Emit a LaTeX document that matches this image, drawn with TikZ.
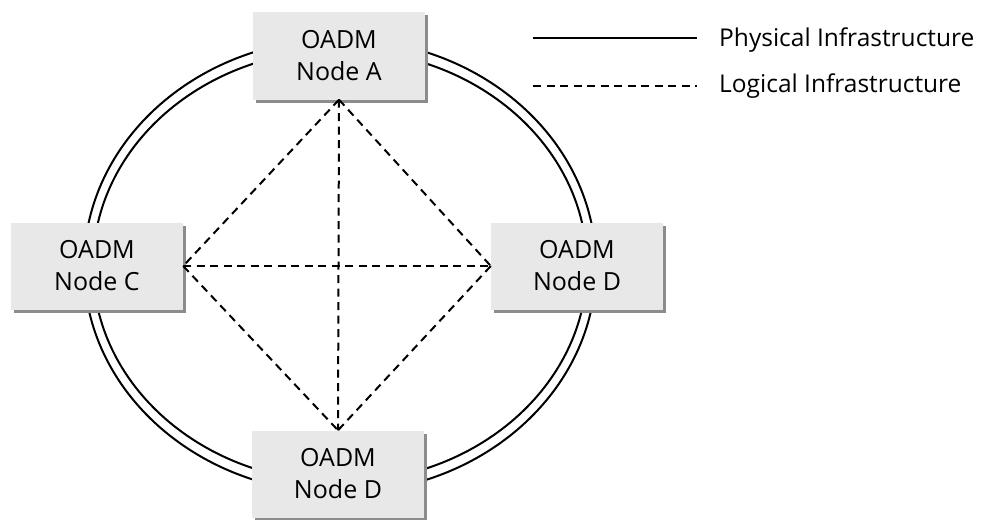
\documentclass[tikz,border=0pt]{standalone}
\usepackage{fontspec}
\setmainfont{Open Sans}
\usetikzlibrary{shadows}
\definecolor{boxfill}{HTML}{E8E8E8}
\definecolor{boxshade}{HTML}{8C8C8C}
\begin{document}
\begin{tikzpicture}[x=1pt,y=-1pt,
  oadm/.style={fill=boxfill, minimum width=172pt, minimum height=87pt,
    inner sep=0pt, align=center, font=\fontsize{25}{32}\selectfont,
    drop shadow={shadow xshift=3pt, shadow yshift=-3pt, fill=boxshade, opacity=1}},
  physical/.style={line width=2pt},
  logical/.style={line width=2pt, dash pattern=on 8pt off 5.5pt},
  legendtext/.style={anchor=west, inner sep=0pt, font=\fontsize{24.5}{28}\selectfont}]
\useasboundingbox (0,0) rectangle (984,519);

% double ring of the physical fibre
\draw[physical] (340,266) ellipse [x radius=256pt, y radius=227pt];
\draw[physical] (340,266) ellipse [x radius=247pt, y radius=216pt];

% OADM nodes
\node[oadm] (A)  at (339,56)  {OADM\\Node A};
\node[oadm] (C)  at (97,266)  {OADM\\Node C};
\node[oadm] (DR) at (577,266) {OADM\\Node D};
\node[oadm] (DB) at (338,474) {OADM\\Node D};

% logical full mesh
\draw[logical] (A.south) -- (C.east);
\draw[logical] (A.south) -- (DR.west);
\draw[logical] (A.south) -- (DB.north);
\draw[logical] (C.east) -- (DR.west);
\draw[logical] (C.east) -- (DB.north);
\draw[logical] (DR.west) -- (DB.north);

% legend
\coordinate (ps) at (533,38);
\coordinate (pe) at (697,38);
\coordinate (ls) at (533,86);
\coordinate (le) at (697,86);
\draw[physical] (ps) -- (pe);
\draw[logical] (ls) -- (le);
\node[legendtext] (ptext) at (719,40) {Physical Infrastructure};
\node[legendtext] (ltext) at (719,86) {Logical Infrastructure};
\end{tikzpicture}
\end{document}
